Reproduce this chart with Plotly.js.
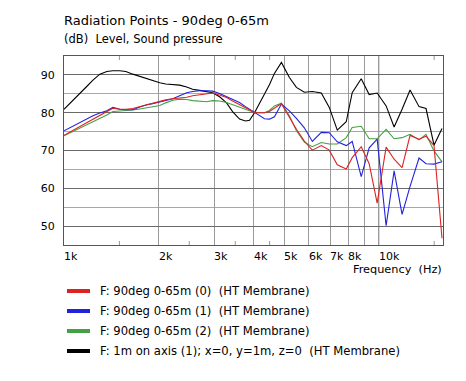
<!DOCTYPE html>
<html>
<head>
<meta charset="utf-8">
<script src="https://cdn.plot.ly/plotly-3.0.1.min.js"></script>
<style>html,body{margin:0;padding:0;background:#fff;}#chart{width:466px;height:381px;}</style>
</head>
<body>
<div id="chart"></div>
<script>
// ---- data ----
const freq = [1000,1060,1124,1183,1236,1300,1368,1430,1504,1572,
  1654,1741,1832,1914,2015,2105,2215,2331,2453,2563,
  2697,2839,2966,3121,3285,3432,3612,3773,3885,4030,
  4178,4335,4494,4662,4906,5201,5475,5802,6152,6569,
  6963,7383,7883,8235,8796,9324,9884,10554,11190,11860,
  12575,13428,14131,14982,15883];

const red90_0 = [74.0,75.2,76.4,77.4,78.3,79.4,80.5,81.2,80.9,80.9,
  81.1,81.6,82.1,82.5,83.0,83.4,83.7,83.9,84.1,84.5,
  84.8,85.0,85.2,84.7,84.0,83.1,82.2,81.4,80.8,80.0,
  80.0,80.0,80.3,81.2,82.4,78.8,75.6,72.5,70.1,71.3,
  70.1,66.2,65.1,68.1,71.0,66.5,56.1,70.9,67.7,65.5,
  74.0,73.0,73.8,71.3,46.8];

const blue90_1 = [75.2,76.3,77.4,78.4,79.2,79.9,80.5,81.4,80.9,80.8,
  80.8,81.5,82.1,82.4,82.9,83.3,83.7,84.5,85.3,85.6,
  85.8,85.8,85.7,85.1,84.3,83.5,82.7,81.6,80.9,80.0,
  79.3,78.4,78.3,78.9,82.3,80.5,78.5,76.0,72.4,74.8,
  74.7,72.3,71.3,72.4,63.1,70.7,73.0,50.1,64.6,53.1,
  60.5,68.0,66.5,66.4,67.0];

const green90_2 = [73.9,74.9,75.9,76.8,77.5,78.4,79.4,80.3,80.4,80.6,
  80.7,81.0,81.3,81.6,81.9,82.6,83.3,83.6,83.5,83.2,
  83.0,82.9,83.2,83.1,82.7,82.1,81.4,80.8,80.5,80.2,
  80.0,80.0,80.6,81.8,82.5,79.2,75.2,72.2,71.0,72.1,
  71.7,71.7,73.4,76.1,76.4,73.1,73.1,75.6,73.1,73.4,
  74.3,72.8,74.3,69.9,67.0];

const blackAxis = [80.9,83.1,85.2,87.0,88.6,90.2,90.9,91.1,91.1,90.9,
  90.2,89.6,89.0,88.4,87.9,87.6,87.4,87.3,86.8,86.2,
  85.9,85.6,85.3,84.2,82.6,80.3,78.3,77.8,78.0,80.0,
  82.5,84.8,87.4,90.4,93.3,89.3,86.7,85.4,85.6,85.2,
  81.4,75.4,77.6,85.3,89.0,84.8,85.2,81.8,76.2,80.9,
  86.0,81.6,81.1,71.4,75.8];

const seriesNames = [
  "F: 90deg 0-65m (0)  (HT Membrane)",
  "F: 90deg 0-65m (1)  (HT Membrane)",
  "F: 90deg 0-65m (2)  (HT Membrane)",
  "F: 1m on axis (1); x=0, y=1m, z=0  (HT Membrane)"
];
const seriesColors = ["#dd2222", "#2222dd", "#44a044", "#000000"];
const seriesValues = [red90_0, blue90_1, green90_2, blackAxis];

const xTickVals = [1000,2000,3000,4000,5000,6000,7000,8000,9000,10000];
const xTickText = ["1k","2k","3k","4k","5k","6k","7k","8k","","10k"];
const xMinorTicks = [1500,2500,3500,4500,15000];
const yTickVals = [50,60,70,80,90];

const titleText = "Radiation Points - 90deg 0-65m";
const subtitleText = "(dB)  Level, Sound pressure";
const xTitleText = "Frequency  (Hz)";

// ---- layout helpers (pixel geometry) ----
const W = 466, H = 381;
const L = 64, R = 443, T = 56, B = 245;
const pw = R - L, ph = B - T;
const px = v => (v - L) / pw;
const py = v => (B - v) / ph;
const FONT = "DejaVu Sans";

// draw order: black first, then green, blue, red
const order = [3, 2, 1, 0];
const traces = order.map(i => ({
  type: "scatter", mode: "lines",
  x: freq, y: seriesValues[i],
  name: seriesNames[i],
  line: {color: seriesColors[i], width: 1.1},
  showlegend: false, hoverinfo: "skip"
}));

const shapes = [];
const annotations = [];

// darker 10k gridline
shapes.push({type: "line", xref: "x", yref: "paper", x0: 10000, x1: 10000, y0: 0, y1: 1,
  line: {color: "#6a6a6a", width: 1}, layer: "below"});
// minor ticks top & bottom
xMinorTicks.forEach(f => {
  shapes.push({type: "line", xref: "x", yref: "paper", x0: f, x1: f, y0: 0, y1: 4/ph,
    line: {color: "#999999", width: 1}});
  shapes.push({type: "line", xref: "x", yref: "paper", x0: f, x1: f, y0: 1, y1: 1 - 4/ph,
    line: {color: "#999999", width: 1}});
});

// x tick labels, left-aligned at the tick
xTickVals.forEach((v, i) => {
  if (!xTickText[i]) return;
  annotations.push({xref: "x", yref: "paper", x: Math.log10(v), y: py(256),
    xanchor: "left", yanchor: "middle", xshift: -2, showarrow: false, text: xTickText[i],
    font: {family: FONT, size: 11, color: "#000"}});
});
// x title
annotations.push({xref: "paper", yref: "paper", x: 1, y: py(269), xanchor: "right", yanchor: "middle",
  xshift: 1, showarrow: false, text: xTitleText, font: {family: FONT, size: 11.3, color: "#000"}});
// subtitle
annotations.push({xref: "paper", yref: "paper", x: 0, y: py(39), xanchor: "left", yanchor: "middle",
  xshift: -2, showarrow: false, text: subtitleText, font: {family: FONT, size: 11.5, color: "#000"}});

// custom legend
const legendY = [291, 311, 331, 351];
seriesNames.forEach((n, i) => {
  shapes.push({type: "line", xref: "paper", yref: "paper", x0: px(67), x1: px(90),
    y0: py(legendY[i]), y1: py(legendY[i]), line: {color: seriesColors[i], width: 4}});
  annotations.push({xref: "paper", yref: "paper", x: px(100), y: py(legendY[i]),
    xanchor: "left", yanchor: "middle", xshift: -2, showarrow: false, text: n,
    font: {family: FONT, size: 11.6, color: "#000"}});
});

const layout = {
  width: W, height: H,
  margin: {l: L, r: W - R, t: T, b: H - B, pad: 0},
  paper_bgcolor: "#ffffff", plot_bgcolor: "#ffffff",
  showlegend: false,
  font: {family: FONT, size: 11, color: "#000"},
  title: {text: titleText, xref: "container", yref: "container",
    x: L / W, xanchor: "left", y: 1 - 20 / H, yanchor: "middle",
    font: {family: FONT, size: 13, color: "#000"}},
  xaxis: {type: "log", range: [3, Math.log10(16000)],
    tickmode: "array", tickvals: xTickVals, ticktext: xTickVals.map(() => ""),
    showgrid: true, gridcolor: "#9a9a9a", gridwidth: 1,
    showline: true, mirror: true, linecolor: "#555555", linewidth: 1,
    ticks: "", zeroline: false, fixedrange: true},
  yaxis: {range: [45, 95], tickmode: "array", tickvals: yTickVals,
    showgrid: true, gridcolor: "#6a6a6a", gridwidth: 1,
    minor: {tickmode: "linear", tick0: 45, dtick: 5, showgrid: true, gridcolor: "#a8a8a8", ticks: ""},
    showline: true, mirror: true, linecolor: "#555555", linewidth: 1,
    ticks: "", ticklabelstandoff: 6, zeroline: false, fixedrange: true,
    tickfont: {family: FONT, size: 11, color: "#000"}},
  shapes: shapes,
  annotations: annotations
};

Plotly.newPlot("chart", traces, layout, {staticPlot: true, displayModeBar: false});
</script>
</body>
</html>
